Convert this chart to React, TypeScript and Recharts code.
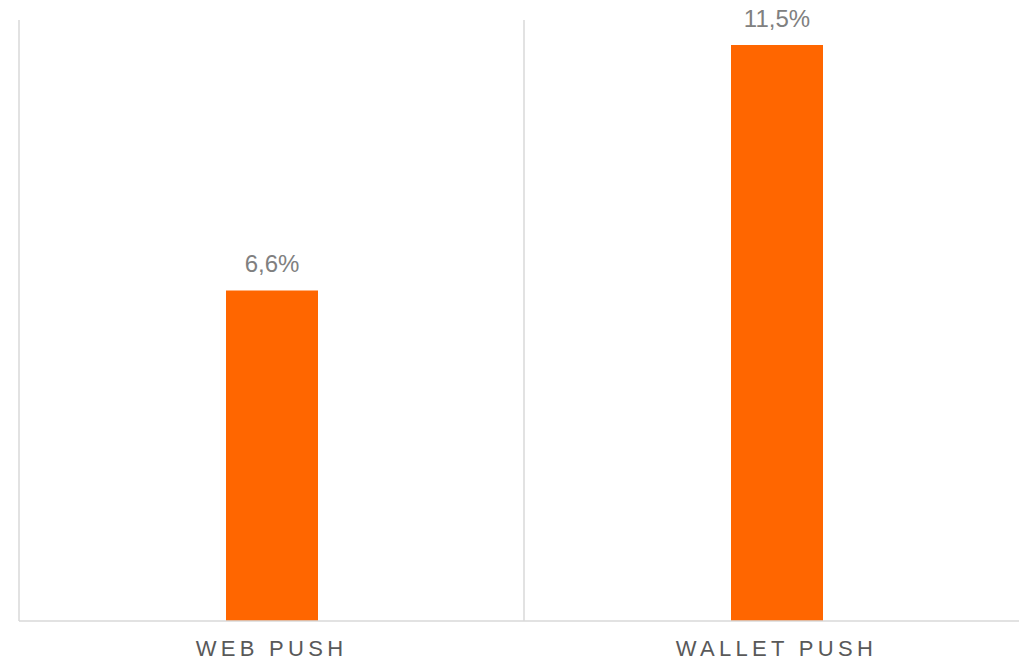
import { BarChart, Bar, XAxis, YAxis, CartesianGrid, LabelList } from "recharts";

const categories = ["WEB PUSH", "WALLET PUSH"];
const rates = [6.6, 11.5];

const data = categories.map((name, i) => ({ name, rate: rates[i] }));

const fmt = (v: any) => `${Number(v).toFixed(1).replace(".", ",")}%`;

export default function App() {
  return (
    <div style={{ position: "absolute", left: 0, top: 0, width: 1019, height: 662, overflow: "hidden", background: "#fff" }}>
      <BarChart
        width={1029}
        height={662}
        data={data}
        margin={{ top: 20, right: 0, left: 19, bottom: 0 }}
        style={{ fontFamily: "'Liberation Sans', Arial, sans-serif" }}
      >
        <CartesianGrid
          horizontal={false}
          stroke="#d9d9d9"
          strokeWidth={1.5}
          verticalCoordinatesGenerator={({ offset }: any) => [offset.left, offset.left + offset.width / 2]}
        />
        <YAxis domain={[0, 12]} hide width={0} />
        <XAxis
          dataKey="name"
          height={41}
          stroke="#d9d9d9"
          strokeWidth={1.5}
          tickLine={false}
          tickSize={0}
          tickMargin={19}
          tick={{ fill: "#595959", fontSize: 22, letterSpacing: 4.3 }}
        />
        <Bar dataKey="rate" fill="#FF6600" barSize={92} isAnimationActive={false}>
          <LabelList dataKey="rate" position="top" offset={18} formatter={fmt} fill="#808080" fontSize={24} />
        </Bar>
      </BarChart>
    </div>
  );
}
